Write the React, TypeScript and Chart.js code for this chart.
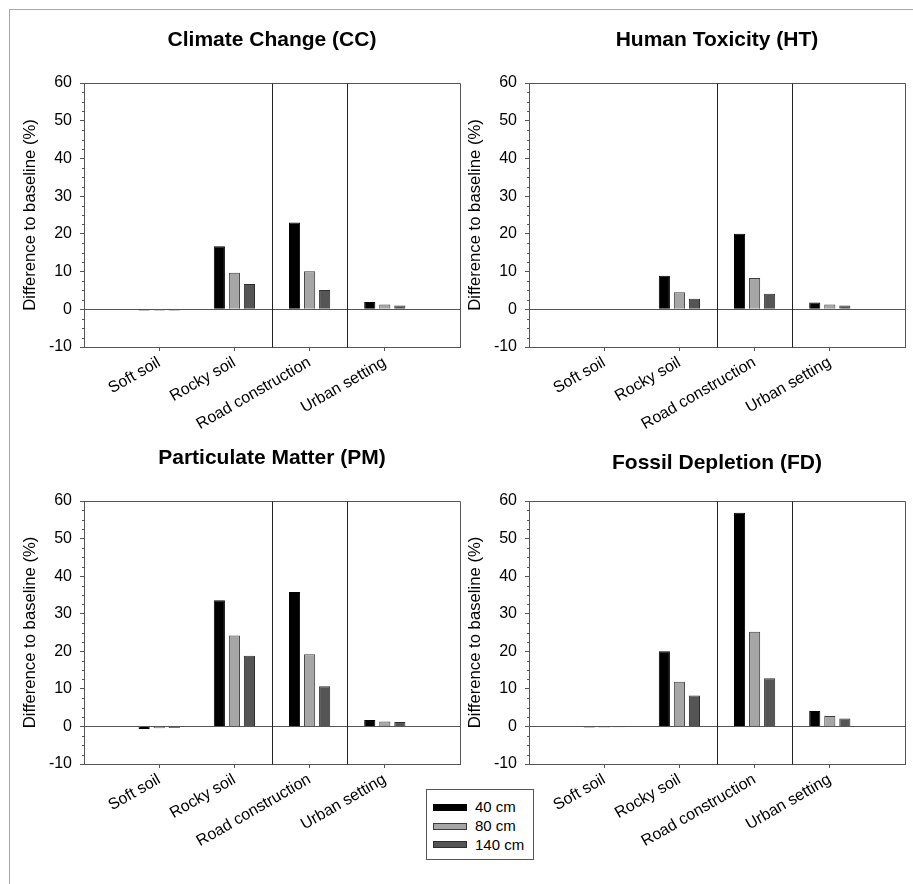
import React, { useEffect, useRef } from "react";
import { Chart, registerables } from "chart.js";

Chart.register(...registerables);

// ---------- data ----------
const categories = ["Soft soil", "Rocky soil", "Road construction", "Urban setting"];
const seriesNames = ["40 cm", "80 cm", "140 cm"];
const yTickValues = [-10, 0, 10, 20, 30, 40, 50, 60];
const yMin = -10;
const yMax = 60;
const yMinorStep = 2.5;

const ccValues40 = [-0.35, 16.7, 23.0, 1.9];
const ccValues80 = [-0.3, 9.7, 10.1, 1.3];
const ccValues140 = [-0.3, 6.7, 5.1, 1.0];

const htValues40 = [0, 8.9, 20.0, 1.8];
const htValues80 = [0, 4.5, 8.3, 1.3];
const htValues140 = [0, 2.8, 4.1, 1.0];

const pmValues40 = [-0.7, 33.6, 35.8, 1.7];
const pmValues80 = [-0.5, 24.2, 19.2, 1.3];
const pmValues140 = [-0.4, 18.8, 10.7, 1.15];

const fdValues40 = [-0.3, 20.0, 56.9, 4.1];
const fdValues80 = [-0.3, 11.9, 25.2, 2.8];
const fdValues140 = [-0.25, 8.2, 12.8, 2.1];

const panelTitles = [
  "Climate Change (CC)",
  "Human Toxicity (HT)",
  "Particulate Matter (PM)",
  "Fossil Depletion (FD)",
];
const yAxisTitle = "Difference to baseline (%)";

// ---------- styles ----------
const FONT = "'Liberation Sans', Arial, Helvetica, sans-serif";
const seriesFill = ["#000000", "#a6a6a6", "#555555"];
const seriesBorder = ["#000000", "#3c3c3c", "#2e2e2e"];
const axisColor = "#555555";
const separatorColor = "#222222";

Chart.defaults.font.family = FONT;

// labels with an empty slot on each side (the original plot leaves a blank category margin)
const paddedLabels = ["", ...categories, ""];
const pad = (arr: number[]) => [null, ...arr, null];

const Y_AXIS_W = 74;
const X_AXIS_H = 83;
const TITLE_H = 73;
const RIGHT_PAD = 6;
const TITLE_SIZE = 21;
const TICK_SIZE = 16;
const YTITLE_SIZE = 16.7;

const decorPlugin = {
  id: "panelDecor",
  afterDraw(chart: any) {
    const { ctx, chartArea } = chart;
    const x = chart.scales.x;
    const y = chart.scales.y;
    const al = (v: number) => Math.round(v) + 0.5;
    ctx.save();
    // minor ticks
    ctx.strokeStyle = axisColor;
    ctx.lineWidth = 1;
    for (let v = yMin; v <= yMax + 1e-9; v += yMinorStep) {
      if (Math.abs(v % 10) < 1e-9) continue;
      const py = al(y.getPixelForValue(v));
      ctx.beginPath();
      ctx.moveTo(al(chartArea.left) - 2.5, py);
      ctx.lineTo(al(chartArea.left), py);
      ctx.stroke();
    }
    // frame
    ctx.strokeStyle = axisColor;
    ctx.beginPath();
    ctx.rect(
      al(chartArea.left),
      al(chartArea.top),
      Math.round(chartArea.right) - Math.round(chartArea.left),
      Math.round(chartArea.bottom) - Math.round(chartArea.top)
    );
    ctx.stroke();
    // group separators between Rocky soil | Road construction | Urban setting
    ctx.strokeStyle = separatorColor;
    [2.5, 3.5].forEach((v) => {
      const px = al(x.getPixelForValue(v));
      ctx.beginPath();
      ctx.moveTo(px, al(chartArea.top));
      ctx.lineTo(px, al(chartArea.bottom));
      ctx.stroke();
    });
    ctx.restore();
  },
};

type PanelProps = {
  title: string;
  values: number[][];
  left: number;
  top: number;
  plotW: number;
  plotH: number;
  titleCenter: number;
};

function Panel({ title, values, left, top, plotW, plotH, titleCenter }: PanelProps) {
  const ref = useRef<HTMLCanvasElement | null>(null);
  const width = Y_AXIS_W + plotW + RIGHT_PAD;
  const height = TITLE_H + plotH + X_AXIS_H;

  useEffect(() => {
    if (!ref.current) return;
    const titleLine = TITLE_SIZE * 1.2;
    const padTop = titleCenter - titleLine / 2;
    const padBottom = TITLE_H - padTop - titleLine;
    const chart = new Chart(ref.current, {
      type: "bar",
      data: {
        labels: paddedLabels,
        datasets: values.map((vals, i) => ({
          label: seriesNames[i],
          data: pad(vals),
          backgroundColor: seriesFill[i],
          borderColor: seriesBorder[i],
          borderWidth: 1,
          categoryPercentage: 0.6,
          barPercentage: 0.74,
        })),
      },
      options: {
        responsive: false,
        animation: false,
        devicePixelRatio: 1,
        layout: { padding: { left: 0, right: RIGHT_PAD, top: 0, bottom: 0 } },
        plugins: {
          legend: { display: false },
          tooltip: { enabled: false },
          title: {
            display: true,
            text: title,
            fullSize: false,
            color: "#000",
            font: { size: TITLE_SIZE, weight: "bold", family: FONT, lineHeight: 1.2 },
            padding: { top: padTop, bottom: padBottom },
          },
        },
        scales: {
          x: {
            type: "category",
            offset: false,
            grid: {
              display: true,
              offset: false,
              drawOnChartArea: false,
              drawTicks: true,
              tickLength: 4,
              color: axisColor,
              tickColor: (c: any) =>
                c.index === 0 || c.index === paddedLabels.length - 1 ? "rgba(0,0,0,0)" : axisColor,
            },
            border: { display: true, color: axisColor },
            ticks: {
              autoSkip: false,
              minRotation: 30,
              maxRotation: 30,
              color: "#000",
              font: { size: TICK_SIZE, family: FONT },
              padding: 2,
            },
            afterFit: (s: any) => {
              s.height = X_AXIS_H;
              s.paddingLeft = 0;
              s.paddingRight = 0;
            },
          },
          y: {
            type: "linear",
            min: yMin,
            max: yMax,
            afterBuildTicks: (s: any) => {
              s.ticks = yTickValues.map((v) => ({ value: v }));
            },
            grid: {
              display: true,
              drawOnChartArea: true,
              drawTicks: true,
              tickLength: 4,
              color: (c: any) => (c.tick && c.tick.value === 0 ? axisColor : "rgba(0,0,0,0)"),
              tickColor: axisColor,
            },
            border: { display: true, color: axisColor },
            ticks: {
              color: "#000",
              font: { size: TICK_SIZE, family: FONT },
              padding: 8,
            },
            title: {
              display: true,
              text: yAxisTitle,
              color: "#000",
              font: { size: YTITLE_SIZE, family: FONT, lineHeight: 1.2 },
              padding: { top: 20 - (YTITLE_SIZE * 1.2) / 2, bottom: 0 },
            },
            afterFit: (s: any) => {
              s.width = Y_AXIS_W;
            },
          },
        },
      },
      plugins: [decorPlugin],
    });
    return () => chart.destroy();
  }, []);

  return (
    <canvas
      ref={ref}
      width={width}
      height={height}
      style={{ position: "absolute", left, top, width, height }}
    />
  );
}

function Legend() {
  return (
    <div
      style={{
        position: "absolute",
        left: 426,
        top: 789,
        width: 108,
        height: 71,
        boxSizing: "border-box",
        border: "1px solid " + axisColor,
        background: "#fff",
        fontFamily: FONT,
        fontSize: 15,
        color: "#000",
        paddingTop: 8,
      }}
    >
      {seriesNames.map((name, i) => (
        <div key={name} style={{ display: "flex", alignItems: "center", height: 18.7, paddingLeft: 6 }}>
          <span
            style={{
              display: "inline-block",
              width: 34,
              height: 7,
              boxSizing: "border-box",
              background: seriesFill[i],
              border: "1px solid " + seriesBorder[i],
              marginRight: 8,
            }}
          />
          <span style={{ lineHeight: "16px" }}>{name}</span>
        </div>
      ))}
    </div>
  );
}

export default function App() {
  return (
    <div
      style={{
        position: "absolute",
        left: 0,
        top: 0,
        width: 913,
        height: 884,
        overflow: "hidden",
        background: "#fff",
      }}
    >
      <div
        style={{
          position: "absolute",
          left: 9,
          top: 9,
          width: 940,
          height: 900,
          borderLeft: "1px solid #a8a8a8",
          borderTop: "1px solid #a8a8a8",
        }}
      />
      <Panel title={panelTitles[0]} values={[ccValues40, ccValues80, ccValues140]} left={10} top={10} plotW={376} plotH={264} titleCenter={30} />
      <Panel title={panelTitles[1]} values={[htValues40, htValues80, htValues140]} left={455} top={10} plotW={376} plotH={264} titleCenter={30} />
      <Panel title={panelTitles[2]} values={[pmValues40, pmValues80, pmValues140]} left={10} top={428} plotW={376} plotH={263} titleCenter={30} />
      <Panel title={panelTitles[3]} values={[fdValues40, fdValues80, fdValues140]} left={455} top={428} plotW={376} plotH={263} titleCenter={35} />
      <Legend />
    </div>
  );
}
